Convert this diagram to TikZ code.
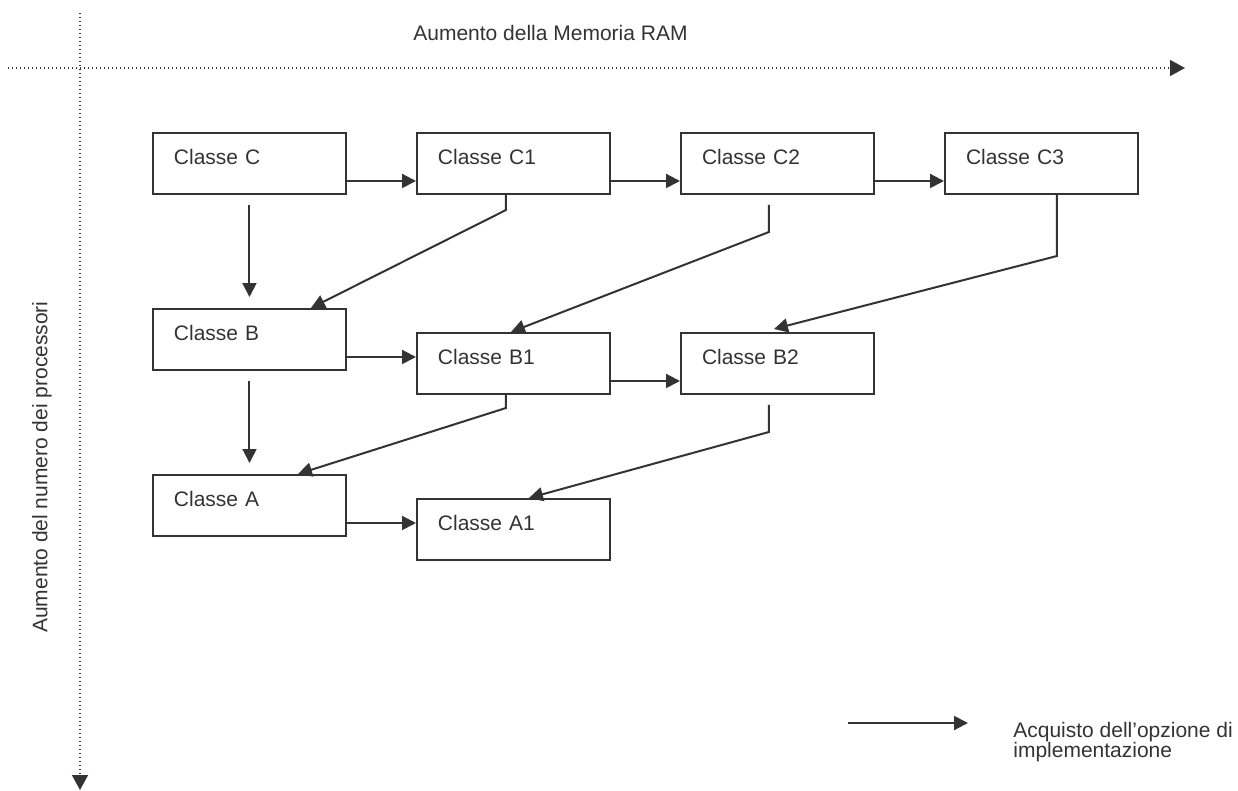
\documentclass[tikz,border=0pt]{standalone}
\usepackage{fontspec}
\setmainfont{Liberation Sans}
\usetikzlibrary{arrows.meta}
\definecolor{ink}{HTML}{333333}
\tikzset{
  classbox/.style={draw=ink, line width=0.04cm, anchor=north west, text=ink,
    text width=3.02cm, align=left, inner xsep=0.42cm, inner ysep=0pt,
    text height=0.63cm, text depth=0.59cm, font=\fontsize{11.95}{14}\selectfont},
  conn/.style={draw=ink, line width=0.04cm, -{Triangle[length=0.28cm,width=0.28cm]}},
  axis/.style={draw=ink, line width=0.03cm, dash pattern=on 0.03cm off 0.05cm,
    -{Triangle[length=0.3cm,width=0.32cm]}},
  caption/.style={text=ink, inner sep=0pt, font=\fontsize{11.95}{11.6}\selectfont}
}

\begin{document}
\begin{tikzpicture}[x=0.02cm, y=-0.02cm]
 \useasboundingbox (0,0) rectangle (1238,791);
 % axes
 \coordinate (xfrom) at (8,68);
 \coordinate (xto) at (1185,68);
 \coordinate (yfrom) at (80,13);
 \coordinate (yto) at (80,790);
 \draw[axis] (xfrom) -- (xto);
 \draw[axis] (yfrom) -- (yto);
 \node[caption, anchor=west] (ram) at (413,33) {Aumento della Memoria RAM};
 \node[caption, rotate=90] (cpu) at (42,467) {Aumento del numero dei processori};
 % classes
 \node[classbox] (c)  at (152,132) {Classe C};
 \node[classbox] (c1) at (416,132) {Classe C1};
 \node[classbox] (c2) at (680,132) {Classe C2};
 \node[classbox] (c3) at (944,132) {Classe C3};
 \node[classbox] (b)  at (152,308) {Classe B};
 \node[classbox] (b1) at (416,332) {Classe B1};
 \node[classbox] (b2) at (680,332) {Classe B2};
 \node[classbox] (a)  at (152,474) {Classe A};
 \node[classbox] (a1) at (416,498) {Classe A1};
 \foreach \s/\t in {c/c1, c1/c2, c2/c3, b/b1, b1/b2, a/a1}
   \draw[conn] ([yshift=-0.35cm]\s.east) -- ([yshift=-0.35cm]\s.east -| \t.west);
 \draw[conn] ([yshift=-0.2cm]c.south) -- ([yshift=0.22cm]b.north);
 \draw[conn] ([yshift=-0.2cm]b.south) -- ([yshift=0.22cm]a.north);
 \draw[conn] ([xshift=-0.15cm]c1.south) -- ++(0,15) -- ([xshift=1.23cm]b.north);
 \draw[conn] ([xshift=-0.17cm,yshift=-0.2cm]c2.south) -- ++(0,27) -- ([xshift=-0.05cm]b1.north);
 \draw[conn] ([xshift=0.31cm]c3.south) -- ++(0,61) -- ([xshift=-0.07cm,yshift=0.06cm]b2.north);
 \draw[conn] ([xshift=-0.15cm]b1.south) -- ++(0,13) -- ([xshift=0.97cm]a.north);
 \draw[conn] ([xshift=-0.17cm,yshift=-0.2cm]b2.south) -- ++(0,27) -- ([xshift=0.31cm]a1.north);
 % legend
 \coordinate (kfrom) at (848,723);
 \coordinate (kto) at (968,723);
 \draw[conn] (kfrom) -- (kto);
 \node[caption, anchor=north west, align=left] (key) at (1013,722)
   {Acquisto dell’opzione di\\implementazione};
\end{tikzpicture}
\end{document}
